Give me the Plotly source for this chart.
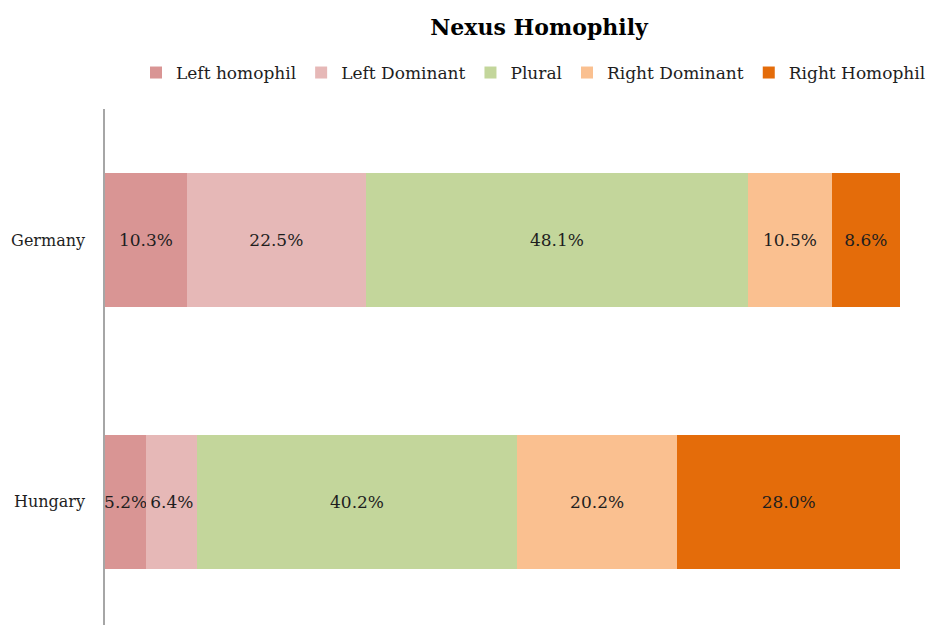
import plotly.graph_objects as go

countries = ['Hungary', 'Germany']
categories = ['Left homophil', 'Left Dominant', 'Plural', 'Right Dominant', 'Right Homophil']
# shares in percent, ordered as countries
left_homophil = [5.2, 10.3]
left_dominant = [6.4, 22.5]
plural = [40.2, 48.1]
right_dominant = [20.2, 10.5]
right_homophil = [28.0, 8.6]
series = [left_homophil, left_dominant, plural, right_dominant, right_homophil]
colors = ['#D99594', '#E6B8B7', '#C3D69B', '#FAC090', '#E46C0A']

FONT = 'DejaVu Serif'

fig = go.Figure()
for name, vals, col in zip(categories, series, colors):
    fig.add_trace(go.Bar(
        y=countries,
        x=vals,
        name=name,
        orientation='h',
        marker=dict(color=col, line=dict(width=0)),
        text=[f'{v:.1f}%' for v in vals],
        textposition='inside',
        insidetextanchor='middle',
        textangle=0,
        textfont=dict(family=FONT, size=17, color='#1e1e1e'),
        constraintext='none',
        width=0.51,
    ))

# the page adds an 8px body margin, so the figure is 8px smaller
fig.update_layout(
    barmode='stack',
    width=931,
    height=617,
    margin=dict(l=97, r=39, t=101, b=0),
    paper_bgcolor='white',
    plot_bgcolor='white',
    font=dict(family=FONT, size=16, color='#1e1e1e'),
    title=dict(
        text='<b>Nexus Homophily</b>',
        x=0.5704, xref='container', xanchor='center',
        y=0.969, yref='container', yanchor='middle',
        font=dict(family=FONT, size=22, color='black'),
    ),
    legend=dict(
        orientation='h',
        x=0.1375, xref='container', xanchor='left',
        y=0.8947, yref='container', yanchor='middle',
        traceorder='normal',
        font=dict(family=FONT, size=17, color='#1e1e1e'),
    ),
    xaxis=dict(
        range=[0, 100],
        showgrid=False,
        showticklabels=False,
        zeroline=False,
        showline=False,
        fixedrange=True,
    ),
    yaxis=dict(
        range=[-0.47, 1.5],
        showgrid=False,
        showline=True,
        linecolor='#A6A6A6',
        linewidth=1.5,
        ticks='',
        ticklabelstandoff=15,
        tickfont=dict(family=FONT, size=16, color='#1e1e1e'),
    ),
    uniformtext=dict(minsize=10, mode='show'),
)

fig.write_html('out.html')
